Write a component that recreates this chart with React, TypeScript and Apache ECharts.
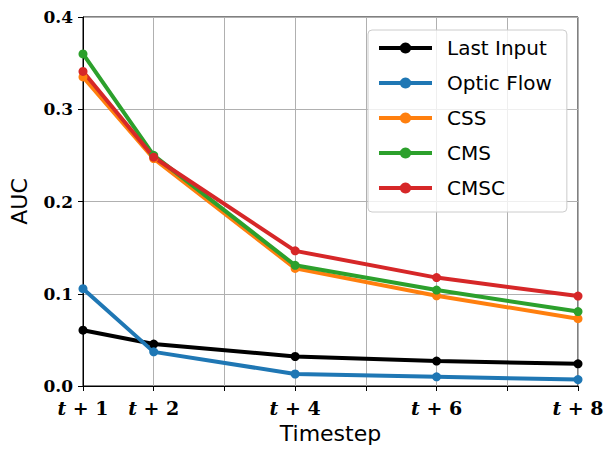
import React, { useEffect, useRef } from "react";
import * as echarts from "echarts";

const steps = [1, 2, 4, 6, 8];
const labeledTicks = [1, 2, 4, 6, 8];
const seriesNames = ["Last Input", "Optic Flow", "CSS", "CMS", "CMSC"];
const lastInput = [0.0605, 0.0455, 0.032, 0.027, 0.024];
const opticFlow = [0.1055, 0.037, 0.013, 0.010, 0.007];
const css = [0.335, 0.2465, 0.1275, 0.0978, 0.073];
const cms = [0.36, 0.25, 0.1308, 0.104, 0.0807];
const cmsc = [0.341, 0.248, 0.1465, 0.1175, 0.0975];
const colors = ["#000000", "#1f77b4", "#ff7f0e", "#2ca02c", "#d62728"];

export default function App() {
  const ref = useRef<HTMLDivElement>(null);
  useEffect(() => {
    document.body.style.margin = "0";
    const chart = echarts.init(ref.current!, null, { renderer: "svg" });
    const values = [lastInput, opticFlow, css, cms, cmsc];
    chart.setOption({
      animation: false,
      grid: {
        left: 83,
        right: 36,
        top: 17,
        bottom: 70,
        show: true,
        borderColor: "#000",
        borderWidth: 1,
      },
      legend: {
        orient: "vertical",
        left: 368,
        top: 30,
        padding: [8, 15, 14, 9],
        itemWidth: 53,
        itemHeight: 14,
        itemGap: 15,
        backgroundColor: "rgba(255,255,255,0.8)",
        borderColor: "#cccccc",
        borderWidth: 1,
        borderRadius: 4,
        lineStyle: { width: 4 },
        textStyle: {
          fontFamily: "DejaVu Sans",
          fontSize: 20,
          color: "#000",
          padding: [0, 0, 0, 10],
        },
        data: seriesNames,
      },
      xAxis: {
        type: "value",
        min: 1,
        max: 8,
        interval: 1,
        name: "Timestep",
        nameLocation: "middle",
        nameGap: 34,
        nameTextStyle: { fontFamily: "DejaVu Sans", fontSize: 22, color: "#000" },
        axisLine: { lineStyle: { color: "#000", width: 1 } },
        axisTick: { show: true, inside: false, length: 5, lineStyle: { color: "#000" } },
        splitLine: { show: true, lineStyle: { color: "#b0b0b0", width: 1 } },
        axisLabel: {
          margin: 13,
          lineHeight: 18,
          color: "#000",
          fontFamily: "DejaVu Serif",
          fontWeight: "bold",
          fontSize: 19,
          formatter: (v: number) =>
            labeledTicks.includes(v) ? `{i|t} + ${v}` : "",
          rich: {
            i: {
              fontFamily: "DejaVu Serif",
              fontStyle: "italic",
              fontWeight: "bold",
              fontSize: 19,
              lineHeight: 18,
              color: "#000",
            },
          },
        },
      },
      yAxis: {
        type: "value",
        min: 0,
        max: 0.4,
        interval: 0.1,
        name: "AUC",
        nameLocation: "middle",
        nameGap: 53,
        nameRotate: 90,
        nameTextStyle: { fontFamily: "DejaVu Sans", fontSize: 22, color: "#000" },
        axisLine: { show: true, lineStyle: { color: "#000", width: 1 } },
        axisTick: { show: true, inside: false, length: 5, lineStyle: { color: "#000" } },
        splitLine: { show: true, lineStyle: { color: "#b0b0b0", width: 1 } },
        axisLabel: {
          margin: 10,
          lineHeight: 15,
          color: "#000",
          fontFamily: "DejaVu Serif",
          fontWeight: "bold",
          fontSize: 17,
          formatter: (v: number) => v.toFixed(1),
        },
      },
      series: seriesNames.map((name, i) => ({
        name,
        type: "line",
        data: steps.map((s, j) => [s, values[i][j]]),
        color: colors[i],
        symbol: "circle",
        symbolSize: 9,
        lineStyle: { width: 4, color: colors[i] },
        itemStyle: { color: colors[i] },
      })),
    });
    return () => chart.dispose();
  }, []);
  return <div ref={ref} style={{ width: 614, height: 456 }} />;
}
